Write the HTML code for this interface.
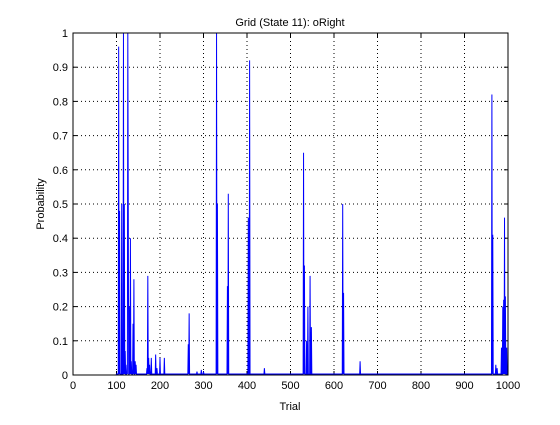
<!DOCTYPE html>
<html><head><meta charset="utf-8"><style>
body{margin:0;background:#fff;}
text{font-family:"Liberation Sans",sans-serif;font-size:11px;fill:#000;}
</style></head><body>
<svg id="chart" width="560" height="420" viewBox="0 0 560 420">
<rect x="0" y="0" width="560" height="420" fill="#fff"/>
<g id="grid"></g>
<g id="ticks"></g>
<polyline id="series" fill="none" stroke="#0000ff" stroke-width="1"/>
<rect x="73" y="33" width="435" height="342" fill="none" stroke="#000" stroke-width="1"/>
<text x="290" y="26" text-anchor="middle">Grid (State 11): oRight</text>
<text x="290" y="410" text-anchor="middle">Trial</text>
<text x="0" y="0" text-anchor="middle" transform="translate(44,204) rotate(-90)">Probability</text>
</svg>
<script>
const spikeTrials=[105,107,112,116,118,120,124,126,127,130,132,134,138,140,143,145,170,172,174,176,180,190,193,200,210,265,267,285,295,300,330,332,355,357,403,406,440,530,532,537,540,545,548,620,622,660,963,965,972,975,985,988,990,992,994,997];
const spikeValues=[0.96,0.48,0.5,1,0.5,0.07,0.03,1,0.5,0.2,0.4,0.04,0.15,0.28,0.04,0.03,0.02,0.29,0.05,0.03,0.05,0.06,0.02,0.05,0.05,0.09,0.18,0.01,0.015,0.01,1,0.5,0.26,0.53,0.46,0.92,0.02,0.65,0.32,0.1,0.2,0.29,0.14,0.5,0.24,0.04,0.82,0.41,0.03,0.02,0.08,0.2,0.22,0.46,0.23,0.08];
const xTicks=[0,100,200,300,400,500,600,700,800,900,1000];
const yTicks=[0,0.1,0.2,0.3,0.4,0.5,0.6,0.7,0.8,0.9,1];
const yTickLabels=["0","0.1","0.2","0.3","0.4","0.5","0.6","0.7","0.8","0.9","1"];
const X0=73,X1=508,Y0=375,Y1=33;
const sx=v=>X0+(v/1000)*(X1-X0);
const sy=v=>Y0-v*(Y0-Y1);
const NS="http://www.w3.org/2000/svg";
const grid=document.getElementById('grid'),ticks=document.getElementById('ticks');
function mk(t,a,p){const e=document.createElementNS(NS,t);for(const k in a)e.setAttribute(k,a[k]);p.appendChild(e);return e;}
xTicks.forEach(v=>{
  const x=sx(v);
  if(v>0&&v<1000){const g=mk('line',{x1:x,x2:x,y1:Y1,y2:Y0,stroke:'#000','stroke-dasharray':'1,3','stroke-width':1},grid);
  
  }
  mk('line',{x1:x,x2:x,y1:Y0,y2:Y0-4,stroke:'#000'},ticks);
  mk('line',{x1:x,x2:x,y1:Y1,y2:Y1+4,stroke:'#000'},ticks);
  const t=mk('text',{x:x,y:Y0+14,'text-anchor':'middle'},ticks);t.textContent=v;
  
  
});
yTicks.forEach((v,i)=>{
  const y=sy(v);
  if(v>0&&v<1){const g=mk('line',{x1:X0,x2:X1,y1:y,y2:y,stroke:'#000','stroke-dasharray':'1,3','stroke-width':1},grid);
  
  }
  mk('line',{x1:X0,x2:X0+4,y1:y,y2:y,stroke:'#000'},ticks);
  mk('line',{x1:X1,x2:X1-4,y1:y,y2:y,stroke:'#000'},ticks);
  const t=mk('text',{x:X0-5,y:y+4,'text-anchor':'end'},ticks);t.textContent=yTickLabels[i];
  
  
});
const vals=new Array(1001).fill(0);
for(let i=100;i<=1000;i++)vals[i]=0.003;
spikeTrials.forEach((t,i)=>{vals[t]=spikeValues[i];});
const pts=[];
for(let i=1;i<=1000;i++)pts.push(sx(i).toFixed(2)+','+sy(vals[i]).toFixed(2));
document.getElementById('series').setAttribute('points',pts.join(' '));
</script>
</body></html>
